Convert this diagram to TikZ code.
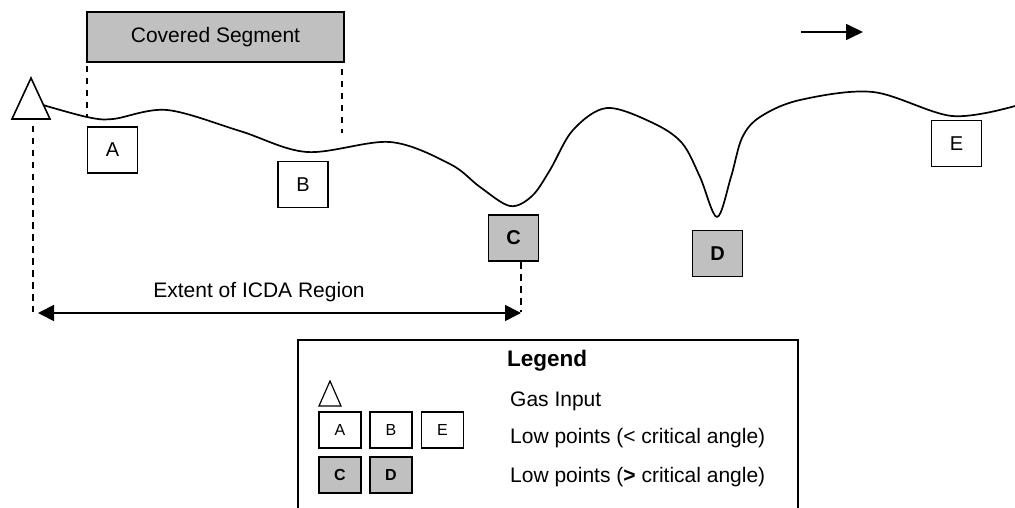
\documentclass[tikz,border=0pt]{standalone}
\usepackage{fontspec}
\setmainfont{Liberation Sans}
\usetikzlibrary{arrows.meta}
\definecolor{boxgray}{HTML}{C0C0C0}
\tikzset{
  lowbox/.style={draw, line width=1.6pt, inner sep=0pt, minimum width=50pt, minimum height=46pt, font=\fontsize{20}{22}\selectfont, fill=white},
  critbox/.style={lowbox, fill=boxgray, font=\fontsize{20}{22}\selectfont\bfseries},
  legbox/.style={draw, line width=1.4pt, inner sep=0pt, minimum width=42pt, minimum height=36pt, font=\fontsize{16}{18}\selectfont, fill=white},
  legcrit/.style={legbox, fill=boxgray, font=\fontsize{16}{18}\selectfont\bfseries},
  guide/.style={line width=1.5pt, dash pattern=on 6.5pt off 5.5pt},
  lbl/.style={font=\fontsize{21}{24}\selectfont, inner sep=0pt},
  bigtip/.style={line width=1.7pt},
}
\begin{document}
\begin{tikzpicture}[x=1pt,y=-1pt]
\useasboundingbox (0,0) rectangle (1015,508);
% covered segment
\node[draw, line width=1.6pt, fill=boxgray, minimum width=257pt, minimum height=50pt, inner sep=0pt, font=\fontsize{21}{24}\selectfont] (cov) at (215.5,37) {Covered Segment};
\coordinate (covL1) at (87,66); \coordinate (covL2) at (87,117);
\coordinate (covR1) at (342,69); \coordinate (covR2) at (342,133);
\draw[guide] (covL1) -- (covL2);
\draw[guide] (covR1) -- (covR2);
% pipeline profile
\draw[line width=1.7pt, line join=round] plot[smooth, tension=0.55] coordinates {
 (43,105) (87,117) (113,119) (167,110) (240,131) (307,152) (390,142)
 (450,164) (480,187) (510,206) (532,196) (550,170) (573,130) (607,108)
 (653,123) (682,143) (700,177) (717,217) (731,177) (742,138) (760,117) (800,100)
 (873,92) (952,116) (1015,106)};
% gas input triangle
\coordinate (ta) at (31,78); \coordinate (tl) at (12,119); \coordinate (tr) at (50,119);
\draw[line width=1.6pt, fill=white, line join=miter] (ta) -- (tl) -- (tr) -- cycle;
% low point boxes
\node[lowbox] (A) at (112.5,150) {A};
\node[lowbox] (B) at (303,184.5) {B};
\node[critbox] (C) at (513.5,238) {C};
\node[critbox] (D) at (717.5,253.5) {D};
\node[lowbox] (E) at (956.5,143.5) {E};
% flow arrow
\coordinate (f1) at (801,32); \coordinate (f2) at (863,32);
\draw[bigtip, -{Triangle[length=17pt,width=16pt]}] (f1) -- (f2);
% extent of ICDA region
\coordinate (x1) at (33,126); \coordinate (x2) at (33,312);
\coordinate (c1) at (521,262); \coordinate (c2) at (521,312);
\draw[guide] (x1) -- (x2);
\draw[guide] (c1) -- (c2);
\coordinate (e1) at (38,313); \coordinate (e2) at (521,313);
\draw[bigtip, {Triangle[length=16pt,width=16pt]}-{Triangle[length=16pt,width=16pt]}] (e1) -- (e2);
\node[lbl] (ext) at (259,292) {Extent of ICDA Region};
% legend
\coordinate (lg1) at (298,515); \coordinate (lg2) at (298,340);
\coordinate (lg3) at (798,340); \coordinate (lg4) at (798,515);
\draw[line width=1.6pt] (lg1) -- (lg2) -- (lg3) -- (lg4);
\node[font=\fontsize{22.5}{25}\selectfont\bfseries, inner sep=0pt] (lgt) at (547,361) {Legend};
\coordinate (la) at (330,381); \coordinate (ll) at (319,406); \coordinate (lr) at (341,406);
\draw[line width=1.2pt, line join=miter] (la) -- (ll) -- (lr) -- cycle;
\node[legbox] (lA) at (340,430) {A};
\node[legbox] (lB) at (391,430) {B};
\node[legbox] (lE) at (442.5,430) {E};
\node[legcrit] (lC) at (340,475) {C};
\node[legcrit] (lD) at (391,475) {D};
\node[lbl, anchor=west] (t1) at (510,401) {Gas Input};
\node[lbl, anchor=west] (t2) at (510,438) {Low points (< critical angle)};
\node[lbl, anchor=west] (t3) at (510,477) {Low points (\textbf{>} critical angle)};
\end{tikzpicture}
\end{document}
